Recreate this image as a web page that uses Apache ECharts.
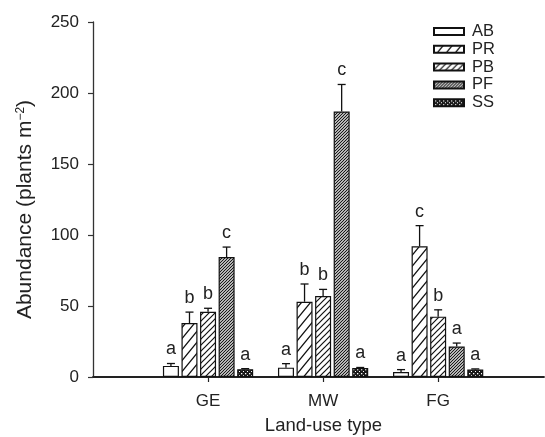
<!DOCTYPE html>
<html>
<head>
<meta charset="utf-8">
<script src="https://cdn.jsdelivr.net/npm/echarts@6/dist/echarts.min.js"></script>
<style>
html,body{margin:0;padding:0;background:#fff;}
#chart{width:545px;height:437px;}
</style>
</head>
<body>
<div id="chart"></div>
<script>
// ---- data ----
const categories = ['GE', 'MW', 'FG'];
const seriesNames = ['AB', 'PR', 'PB', 'PF', 'SS'];
const valuesAB = [7.8, 6.6, 3.5];
const valuesPR = [38, 53, 92];
const valuesPB = [46, 57, 42.5];
const valuesPF = [84.5, 187, 21.5];
const valuesSS = [5.5, 6.3, 5.3];
const errAB = [1.7, 2.8, 1.7];
const errPR = [7.7, 12.5, 14.6];
const errPB = [2.4, 4.7, 4.8];
const errPF = [7, 19, 2.4];
const errSS = [0.4, 0.4, 0.4];
const lettersAB = ['a', 'a', 'a'];
const lettersPR = ['b', 'b', 'c'];
const lettersPB = ['b', 'b', 'b'];
const lettersPF = ['c', 'c', 'a'];
const lettersSS = ['a', 'a', 'a'];
const yTicks = [0, 50, 100, 150, 200, 250];

const allValues = [valuesAB, valuesPR, valuesPB, valuesPF, valuesSS];
const allErr = [errAB, errPR, errPB, errPF, errSS];
const allLetters = [lettersAB, lettersPR, lettersPB, lettersPF, lettersSS];

// ---- patterns ----
function hatch(w, h, lw, bg, fg) {
  const c = document.createElement('canvas');
  c.width = w; c.height = h;
  const ctx = c.getContext('2d');
  ctx.fillStyle = bg; ctx.fillRect(0, 0, w, h);
  ctx.strokeStyle = fg; ctx.lineWidth = lw;
  ctx.beginPath();
  for (let k = -1; k <= 1; k++) {
    ctx.moveTo(k * w - w, 2 * h);
    ctx.lineTo(k * w + 2 * w, -h);
  }
  ctx.stroke();
  return { image: c, repeat: 'repeat' };
}
function dots() {
  const c = document.createElement('canvas');
  c.width = 4; c.height = 4;
  const ctx = c.getContext('2d');
  ctx.fillStyle = '#1a1a1a'; ctx.fillRect(0, 0, 4, 4);
  ctx.fillStyle = '#ffffff';
  ctx.fillRect(1, 1, 1.3, 1.3);
  ctx.fillRect(3, 3, 1.3, 1.3);
  return { image: c, repeat: 'repeat' };
}
const fills = [
  '#ffffff',
  hatch(9, 11, 1.3, '#ffffff', '#111'),
  hatch(6, 6, 1.2, '#ffffff', '#111'),
  hatch(3, 3, 1.2, '#ffffff', '#111'),
  dots()
];

const barWidth = 16;
const barGapRatio = 0.16;
const pitch = barWidth * (1 + barGapRatio);

const barSeries = seriesNames.map((name, s) => ({
  name: name,
  type: 'bar',
  barWidth: barWidth,
  barGap: (barGapRatio * 100) + '%',
  data: allValues[s].map((v, i) => [i + 1, v]),
  itemStyle: { color: fills[s], borderColor: '#111', borderWidth: 1.2 },
  emphasis: { disabled: true },
  z: 2
}));

const errData = [];
const errLetters = [];
seriesNames.forEach((name, s) => {
  allValues[s].forEach((v, i) => {
    errData.push([i + 1, v, allErr[s][i], s]);
    errLetters.push(allLetters[s][i]);
  });
});

const errSeries = {
  type: 'custom',
  data: errData,
  clip: false,
  z: 5,
  silent: true,
  renderItem: function (params, api) {
    const x = api.value(0), v = api.value(1), e = api.value(2), s = api.value(3);
    const off = (s - 2) * pitch;
    const p0 = api.coord([x, v]);
    const p1 = api.coord([x, v + e]);
    const cx = p0[0] + off;
    const children = [
      { type: 'line', shape: { x1: cx, y1: p0[1], x2: cx, y2: p1[1] }, style: { stroke: '#111', lineWidth: 1.3 } },
      { type: 'line', shape: { x1: cx - 4, y1: p1[1], x2: cx + 4, y2: p1[1] }, style: { stroke: '#111', lineWidth: 1.3 } },
      { type: 'text', style: { x: cx, y: p1[1] - 5, text: errLetters[params.dataIndex], align: 'center', verticalAlign: 'bottom', fill: '#222', font: '18px "Liberation Sans", Arial, sans-serif' } }
    ];
    return { type: 'group', children: children };
  }
};

const chart = echarts.init(document.getElementById('chart'), null, { renderer: 'canvas' });
chart.setOption({
  animation: false,
  backgroundColor: '#ffffff',
  textStyle: { fontFamily: '"Liberation Sans", Arial, sans-serif', color: '#222' },
  grid: { left: 93, right: 1, top: 22, bottom: 60, containLabel: false, outerBoundsMode: 'none' },
  legend: {
    data: seriesNames,
    orient: 'vertical',
    left: 433,
    top: 23,
    padding: 0,
    icon: 'rect',
    itemWidth: 30,
    itemHeight: 7,
    itemGap: 0.8,
    selectedMode: false,
    textStyle: { fontSize: 16.5, color: '#222', lineHeight: 16, padding: [0, 0, 0, 3] }
  },
  xAxis: {
    type: 'value',
    min: 0,
    max: 3.92,
    interval: 1,
    splitLine: { show: false },
    axisLine: { show: true, onZero: false, lineStyle: { color: '#222', width: 1.8 } },
    axisTick: { show: true, length: 5, customValues: [1, 2, 3], lineStyle: { color: '#222', width: 1.2 } },
    axisLabel: {
      customValues: [1, 2, 3],
      formatter: function (v) { return categories[Math.round(v) - 1] || ''; },
      fontSize: 17, color: '#222', margin: 16
    },
    name: 'Land-use type',
    nameLocation: 'middle',
    nameGap: 39,
    nameTextStyle: { fontSize: 18.5, color: '#222', padding: [0, 0, 0, 10] }
  },
  yAxis: {
    type: 'value',
    min: yTicks[0],
    max: yTicks[yTicks.length - 1],
    interval: 50,
    splitLine: { show: false },
    axisLine: { show: true, lineStyle: { color: '#333', width: 1.3 } },
    axisTick: { show: true, length: 5, lineStyle: { color: '#333', width: 1.2 } },
    axisLabel: { fontSize: 17, color: '#222', margin: 14 },
    name: 'Abundance (plants m{sup|\u22122})',
    nameLocation: 'middle',
    nameGap: 57,
    nameTextStyle: {
      fontSize: 21, color: '#222',
      padding: [0, 20, 0, 0],
      rich: { sup: { fontSize: 12, verticalAlign: 'top', color: '#222', padding: [0, 0, 9, 0] } }
    }
  },
  series: barSeries.concat([errSeries])
});
</script>
</body>
</html>
